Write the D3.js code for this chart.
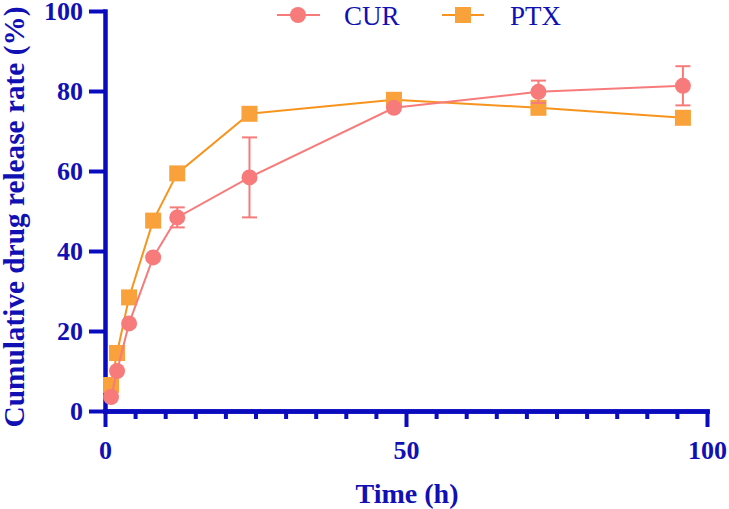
<!DOCTYPE html>
<html>
<head>
<meta charset="utf-8">
<script src="https://cdn.jsdelivr.net/npm/d3@7/dist/d3.min.js"></script>
<style>
  html, body { margin: 0; padding: 0; background: #fff; }
  svg { display: block; }
</style>
</head>
<body>
<svg id="chart" width="729" height="509"></svg>
<script>
// ---- data ----
const times = [1, 2, 4, 8, 12, 24, 48, 72, 96];
const curValues = [3.5, 10.0, 21.9, 38.4, 48.4, 58.4, 75.8, 79.8, 81.3];
const curErrors = [0, 0, 0, 0, 2.5, 10.0, 0, 2.8, 4.9];
const ptxValues = [6.5, 14.5, 28.4, 47.6, 59.4, 74.3, 77.8, 75.8, 73.3];
const seriesNames = ["CUR", "PTX"];
const xTicks = [0, 50, 100];
const xMinorTicks = [5, 10, 15, 20, 25, 30, 35, 40, 45, 55, 60, 65, 70, 75, 80, 85, 90, 95];
const yTicks = [0, 20, 40, 60, 80, 100];
const xTitle = "Time (h)";
const yTitle = "Cumulative drug release rate (%)";

// ---- style ----
const FONT = "'Liberation Serif', 'Times New Roman', Times, serif";
const AXIS = "#0a0abf";
const TEXT = "#1010b4";
const CUR_C = "#f77b7b";
const PTX_LINE = "#f7941d";
const PTX_FILL = "#f9a23c";

const svg = d3.select("#chart");
const x = d3.scaleLinear().domain([0, 100]).range([105, 707]);
const y = d3.scaleLinear().domain([0, 100]).range([411, 11]);

// ---- axes ----
const gx = svg.append("g").attr("transform", `translate(0,${y(0)})`)
  .call(d3.axisBottom(x).tickValues(xTicks).tickSize(16).tickPadding(13.5).tickSizeOuter(0));
const gxm = svg.append("g").attr("transform", `translate(0,${y(0)})`)
  .call(d3.axisBottom(x).tickValues(xMinorTicks).tickSize(8).tickFormat("").tickSizeOuter(0));
const gy = svg.append("g").attr("transform", `translate(${x(0)},0)`)
  .call(d3.axisLeft(y).tickValues(yTicks).tickSize(16).tickPadding(6).tickSizeOuter(0));

[gx, gxm, gy].forEach(g => {
  g.select(".domain").attr("stroke", AXIS).attr("stroke-width", 4.5).attr("stroke-linecap", "square");
  g.selectAll(".tick line").attr("stroke", AXIS).attr("stroke-width", 4);
  g.selectAll(".tick text").attr("fill", TEXT).attr("font-family", FONT)
    .attr("font-weight", "bold").attr("font-size", 26);
});

// axis titles
svg.append("text").attr("x", 407).attr("y", 503).attr("text-anchor", "middle")
  .attr("fill", TEXT).attr("font-family", FONT).attr("font-weight", "bold")
  .attr("font-size", 28).text(xTitle);
svg.append("text").attr("transform", "translate(23.5,217) rotate(-90)").attr("text-anchor", "middle")
  .attr("fill", TEXT).attr("font-family", FONT).attr("font-weight", "bold")
  .attr("font-size", 29.3).text(yTitle);

// ---- PTX series ----
const ptx = times.map((t, i) => ({ t, v: ptxValues[i] }));
const cur = times.map((t, i) => ({ t, v: curValues[i], e: curErrors[i] }));
const line = d3.line().x(d => x(d.t)).y(d => y(d.v));

svg.append("path").datum(ptx).attr("d", line).attr("fill", "none")
  .attr("stroke", PTX_LINE).attr("stroke-width", 2);
const sq = 16;
svg.append("g").selectAll("rect").data(ptx).join("rect")
  .attr("x", d => x(d.t) - sq / 2).attr("y", d => y(d.v) - sq / 2)
  .attr("width", sq).attr("height", sq).attr("fill", PTX_FILL);

// ---- CUR series ----
const eb = svg.append("g").attr("stroke", CUR_C).attr("stroke-width", 2);
cur.filter(d => d.e > 0).forEach(d => {
  const cx = x(d.t), cw = 7.5;
  eb.append("line").attr("x1", cx).attr("x2", cx).attr("y1", y(d.v + d.e)).attr("y2", y(d.v - d.e));
  eb.append("line").attr("x1", cx - cw).attr("x2", cx + cw).attr("y1", y(d.v + d.e)).attr("y2", y(d.v + d.e));
  eb.append("line").attr("x1", cx - cw).attr("x2", cx + cw).attr("y1", y(d.v - d.e)).attr("y2", y(d.v - d.e));
});
svg.append("path").datum(cur).attr("d", line).attr("fill", "none")
  .attr("stroke", CUR_C).attr("stroke-width", 2);
svg.append("g").selectAll("circle").data(cur).join("circle")
  .attr("cx", d => x(d.t)).attr("cy", d => y(d.v)).attr("r", 8).attr("fill", CUR_C);

// ---- legend ----
const lg = svg.append("g");
lg.append("line").attr("x1", 277).attr("x2", 320).attr("y1", 15).attr("y2", 15)
  .attr("stroke", CUR_C).attr("stroke-width", 2);
lg.append("circle").attr("cx", 298).attr("cy", 15).attr("r", 8).attr("fill", CUR_C);
lg.append("text").attr("x", 344).attr("y", 25).attr("fill", TEXT).attr("font-family", FONT)
  .attr("font-size", 27).text(seriesNames[0]);
lg.append("line").attr("x1", 442).attr("x2", 484).attr("y1", 15).attr("y2", 15)
  .attr("stroke", PTX_LINE).attr("stroke-width", 2);
lg.append("rect").attr("x", 463 - sq / 2).attr("y", 15 - sq / 2).attr("width", sq).attr("height", sq)
  .attr("fill", PTX_FILL);
lg.append("text").attr("x", 510).attr("y", 25).attr("fill", TEXT).attr("font-family", FONT)
  .attr("font-size", 27).text(seriesNames[1]);
</script>
</body>
</html>
